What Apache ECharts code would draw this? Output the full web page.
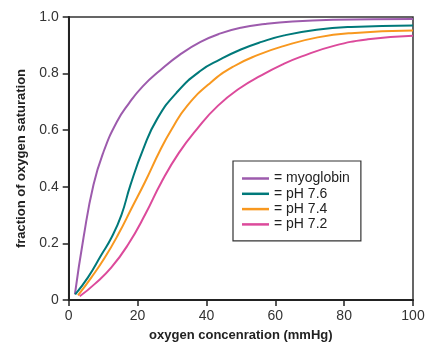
<!DOCTYPE html>
<html>
<head>
<meta charset="utf-8">
<script src="https://cdn.jsdelivr.net/npm/echarts@6/dist/echarts.min.js"></script>
<style>html,body{margin:0;padding:0;background:#fff;}#c{width:430px;height:347px;}</style>
</head>
<body>
<div id="c"></div>
<script>
var seriesNames = ['myoglobin', 'pH 7.6', 'pH 7.4', 'pH 7.2'];
var xTicks = [0, 20, 40, 60, 80, 100];
var yTicks = [0, 0.2, 0.4, 0.6, 0.8, 1.0];

var myoX = [1.8, 4.3, 7.2, 10.1, 14, 17.5, 21.5, 26.6, 32.4, 38.3, 44.1, 50, 57, 65, 77, 100];
var myoY = [0.02, 0.22, 0.407, 0.523, 0.63, 0.695, 0.755, 0.812, 0.868, 0.912, 0.942, 0.962, 0.975, 0.984, 0.99, 0.993];

var ph76X = [1.9, 5.6, 9.5, 12.4, 15.3, 17.9, 21.7, 25.7, 31.5, 38.3, 44, 50, 56, 62.6, 72, 82, 100];
var ph76Y = [0.02, 0.08, 0.16, 0.22, 0.30, 0.405, 0.535, 0.64, 0.735, 0.81, 0.85, 0.885, 0.912, 0.935, 0.955, 0.965, 0.97];

var ph74X = [2.7, 6.6, 10.5, 14.4, 18.3, 22.2, 26.6, 30, 34.4, 41.2, 48, 55, 62.6, 72.3, 82, 100];
var ph74Y = [0.016, 0.08, 0.15, 0.232, 0.325, 0.418, 0.53, 0.605, 0.686, 0.768, 0.826, 0.866, 0.898, 0.928, 0.943, 0.952];

var ph72X = [3.2, 7.6, 12.4, 17.3, 22.2, 27, 32, 37.3, 43.3, 49.9, 55.8, 62, 67.5, 77, 86.9, 100];
var ph72Y = [0.013, 0.057, 0.115, 0.197, 0.302, 0.418, 0.52, 0.605, 0.686, 0.75, 0.793, 0.832, 0.86, 0.898, 0.921, 0.934];

var colors = ['#9D5BAD', '#00797A', '#F8981F', '#DC4A9B'];

function pairs(xs, ys) { return xs.map(function (x, i) { return [x, ys[i]]; }); }
var allX = [myoX, ph76X, ph74X, ph72X];
var allY = [myoY, ph76Y, ph74Y, ph72Y];

var chart = echarts.init(document.getElementById('c'), null, {renderer: 'canvas'});
var fontFam = '"Liberation Sans", Arial, sans-serif';
chart.setOption({
  animation: false,
  backgroundColor: '#fff',
  grid: {left: 68.7, right: 17, top: 17, bottom: 44, show: true, borderColor: '#333', borderWidth: 1.5},
  legend: {
    data: seriesNames,
    orient: 'vertical',
    left: 233, top: 161,
    padding: [10, 11, 9, 9],
    borderColor: '#333', borderWidth: 1.2,
    backgroundColor: '#fff',
    icon: 'rect',
    itemWidth: 27, itemHeight: 2.5,
    itemGap: 0.3,
    itemTextGap: 6,
    formatter: function (n) { return '= ' + n; },
    textStyle: {fontFamily: fontFam, fontSize: 14, color: '#222', lineHeight: 15}
  },
  xAxis: {
    type: 'value', min: xTicks[0], max: xTicks[xTicks.length - 1], interval: 20,
    name: 'oxygen concenration (mmHg)', nameLocation: 'middle', nameGap: 29,
    nameTextStyle: {fontFamily: fontFam, fontSize: 13, fontWeight: 'bold', color: '#222'},
    axisLine: {lineStyle: {color: '#222', width: 2}},
    axisTick: {show: true, length: 6, lineStyle: {color: '#222', width: 1.5}},
    axisLabel: {margin: 9, fontFamily: fontFam, fontSize: 14, color: '#333'},
    splitLine: {show: false}
  },
  yAxis: {
    type: 'value', min: yTicks[0], max: yTicks[yTicks.length - 1], interval: 0.2,
    name: 'fraction of oxygen saturation', nameLocation: 'middle', nameGap: 31,
    nameTextStyle: {fontFamily: fontFam, fontSize: 13, fontWeight: 'bold', color: '#222'},
    axisLine: {show: true, lineStyle: {color: '#222', width: 2}},
    axisTick: {show: true, length: 6, lineStyle: {color: '#222', width: 1.5}},
    axisLabel: {margin: 10, fontFamily: fontFam, fontSize: 14, color: '#333',
      formatter: function (v) { return v === 0 ? '0' : v.toFixed(1); }},
    splitLine: {show: false}
  },
  series: seriesNames.map(function (n, i) {
    return {
      name: n, type: 'line', data: pairs(allX[i], allY[i]),
      showSymbol: false, symbol: 'none', smooth: 0.5,
      lineStyle: {color: colors[i], width: 2}, itemStyle: {color: colors[i]}
    };
  })
});
</script>
</body>
</html>
